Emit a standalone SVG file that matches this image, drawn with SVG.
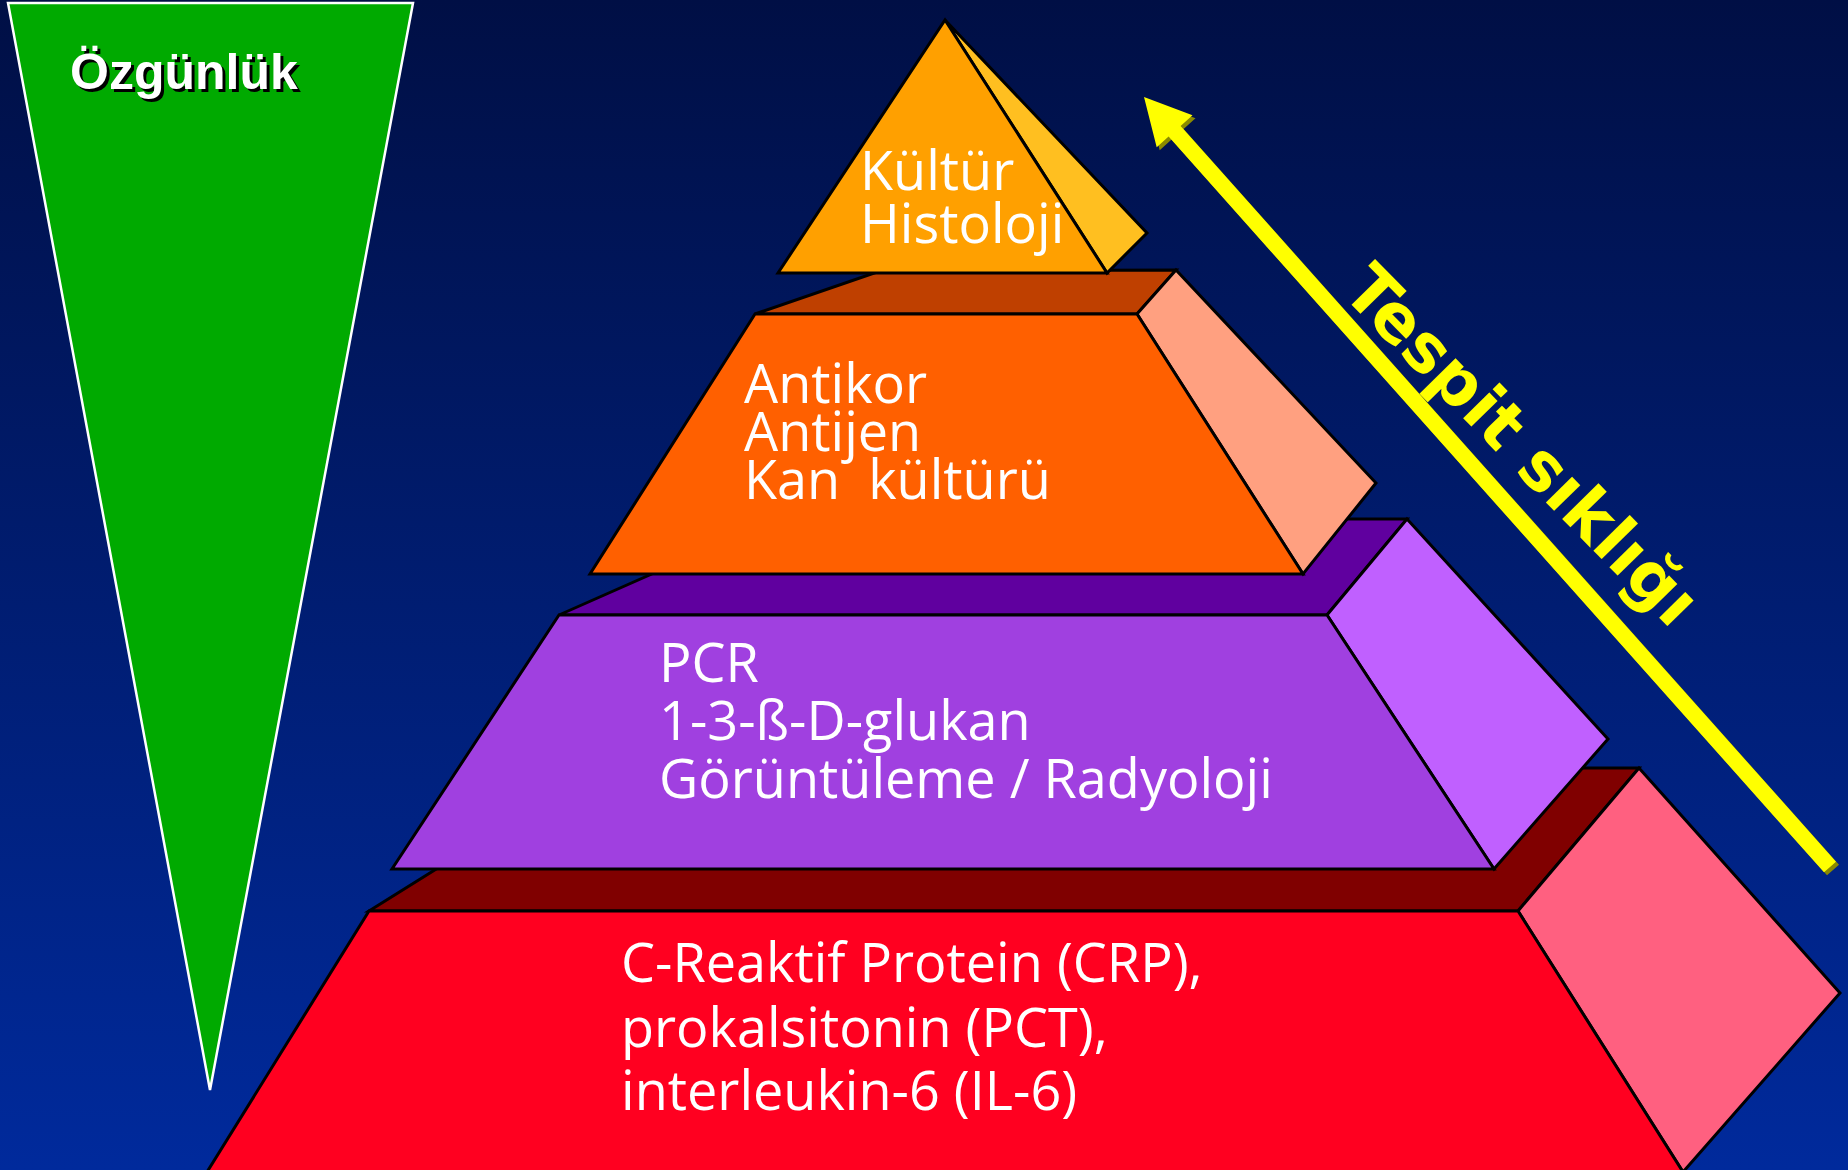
<svg xmlns="http://www.w3.org/2000/svg" width="1848" height="1170" viewBox="0 0 1848 1170">
  <defs>
    <linearGradient id="bg" x1="0" y1="0" x2="0" y2="1">
      <stop offset="0" stop-color="#000F45"/>
      <stop offset="1" stop-color="#002A9C"/>
    </linearGradient>
    <style>
      .face { stroke: #000; stroke-width: 3; stroke-linejoin: miter; }
      .lbl { font-family: "Open Sans", "DejaVu Sans", sans-serif; font-size: 54px; fill: #FFFFFF; white-space: pre; }
      .title { font-family: "Liberation Sans", Arial, sans-serif; font-weight: bold; font-size: 50px; }
      .axis { font-family: "DejaVu Sans", Verdana, sans-serif; font-weight: bold; font-size: 67px; fill: #FFFF00; }
    </style>
  </defs>

  <rect x="0" y="0" width="1848" height="1170" fill="url(#bg)"/>

  <g id="ozgunluk">
    <polygon points="8,3 413,3 210,1090" fill="#00AA00" stroke="#FFFFFF" stroke-width="2.5"/>
    <text class="title" x="73" y="92" fill="#000000">Özgünlük</text>
    <text class="title" x="70" y="89" fill="#FFFFFF">Özgünlük</text>
  </g>

  <g id="tier-inflammation">
    <polygon class="face" points="369,911 598,768 1639,768 1518,911" fill="#800000"/>
    <polygon class="face" points="1518,911 1639,768 1840,993 1683,1172" fill="#FF6080"/>
    <polygon class="face" points="369,911 1518,911 1683,1172 207,1172" fill="#FF0020"/>
    <text class="lbl" x="621" y="982">C-Reaktif Protein (CRP),</text>
    <text class="lbl" x="621" y="1047">prokalsitonin (PCT),</text>
    <text class="lbl" x="621" y="1110">interleukin-6 (IL-6)</text>
  </g>

  <g id="tier-molecular">
    <polygon class="face" points="559,615 776,519 1407,519 1327,615" fill="#60009F"/>
    <polygon class="face" points="1327,615 1407,519 1608,739 1494,869" fill="#C060FF"/>
    <polygon class="face" points="559,615 1327,615 1494,869 392,869" fill="#A040E0"/>
    <text class="lbl" x="659" y="682">PCR</text>
    <text class="lbl" x="659" y="740">1-3-ß-D-glukan</text>
    <text class="lbl" x="659" y="798">Görüntüleme / Radyoloji</text>
  </g>

  <g id="tier-serology">
    <polygon class="face" points="755,314 880,271 1176,270 1137,314" fill="#BF4000"/>
    <polygon class="face" points="1137,314 1176,270 1376,483 1303,574" fill="#FFA080"/>
    <polygon class="face" points="755,314 1137,314 1303,574 590,574" fill="#FF6000"/>
    <text class="lbl" x="744" y="403">Antikor</text>
    <text class="lbl" x="744" y="451">Antijen</text>
    <text class="lbl" x="744" y="499">Kan  kültürü</text>
  </g>

  <g id="tier-culture">
    <polygon class="face" points="945,20 1147,233 1107,273" fill="#FFBF20"/>
    <polygon class="face" points="945,20 1107,273 778,273" fill="#FFA000"/>
    <text class="lbl" x="860" y="190">Kültür</text>
    <text class="lbl" x="860" y="243">Histoloji</text>
  </g>

  <g id="connectors">
    <path id="arrow" d="M1144,97 L1192.5,115.3 L1180.6,126 L1836,861.7 L1824,872.3 L1168.6,136.6 L1156.7,147.3 Z" fill="#8A8A00" transform="translate(3,3)"/>
    <path d="M1144,97 L1192.5,115.3 L1180.6,126 L1836,861.7 L1824,872.3 L1168.6,136.6 L1156.7,147.3 Z" fill="#FFFF00"/>
    <text class="axis" transform="translate(1340,293) rotate(45.5)">Tespit sıklığı</text>
  </g>
</svg>
